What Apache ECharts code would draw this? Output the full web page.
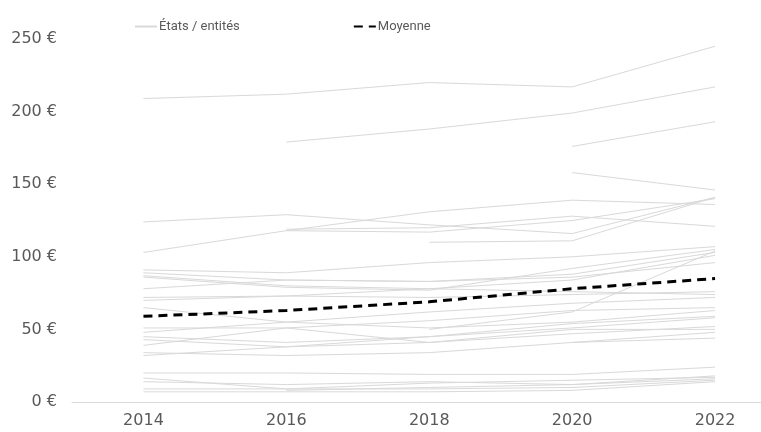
<!DOCTYPE html>
<html>
<head>
<meta charset="utf-8">
<script src="https://cdn.jsdelivr.net/npm/echarts@6/dist/echarts.min.js"></script>
<style>
  html, body { margin: 0; padding: 0; background: #fff; }
  #chart { width: 761px; height: 432px; }
</style>
</head>
<body>
<div id="chart"></div>
<script>
// années (axe x)
let annees = [2014, 2016, 2018, 2020, 2022];
let yTicks = [0, 50, 100, 150, 200, 250];

// une ligne par état / entité (null = pas de donnée)
let etats = [
    [209, 212, 220, 217, 245],
    [null, 179, 188, 199, 217],
    [null, null, null, 176, 193],
    [null, null, null, 158, 146],
    [124, 129, 122, 116, 141],
    [103, 118, 131, 139, 136],
    [null, 119, 120, 128, 121],
    [null, null, 110, 111, 141],
    [null, 118, 117, 125, 140],
    [91, 89, 96, 100, 107],
    [89, 84, 83, 88, 103],
    [87, 80, 78, 84, 101],
    [86, 79, 77, 92, 105],
    [78, 84, 83, 86, 96],
    [72, 73, 72, 74, 76],
    [70, 73, 78, 76, 74],
    [65, 55, 62, 68, 72],
    [51, 51, 56, 63, 65],
    [48, 55, 51, 55, 63],
    [45, 41, 45, 54, 59],
    [43, 38, 45, 51, 58],
    [39, 51, 41, 50, 50],
    [34, 32, 34, 41, 48],
    [32, 38, 41, 47, 52],
    [null, null, 50, 62, 104],
    [null, null, null, 41, 44],
    [20, 20, 19, 19, 24],
    [16.5, 9, 13, 15, 17],
    [14, 12, 14, 12, 16],
    [9, 9, 9, 10, 15],
    [7, 7, 7, 8, 14],
    [null, 8, 10, 12, 18]
];

// moyenne
let moyenne = [59, 63, 69, 78, 85];

let textColor = '#595959';
let greyLine = '#d9d9d9';

function toPairs(values) {
    let out = [];
    for (let i = 0; i < annees.length; i++) {
        out.push([annees[i], values[i] === null ? null : values[i]]);
    }
    return out;
}

let chart = echarts.init(document.getElementById('chart'), null, {renderer: 'canvas'});

let series = [];
for (let i = 0; i < etats.length; i++) {
    series.push({
        name: 'États / entités',
        type: 'line',
        data: toPairs(etats[i]),
        symbol: 'none',
        silent: true,
        lineStyle: {color: greyLine, width: 1},
        itemStyle: {color: greyLine},
        z: 2
    });
}
series.push({
    name: 'Moyenne',
    type: 'line',
    data: toPairs(moyenne),
    symbol: 'none',
    lineStyle: {color: '#000', width: 3, type: [9, 6]},
    itemStyle: {color: '#000'},
    z: 5
});

chart.setOption({
    animation: false,
    backgroundColor: '#fff',
    legend: {
        top: 15,
        left: 129,
        itemGap: 113,
        itemWidth: 22,
        itemHeight: 10,
        itemStyle: {opacity: 0},
        textStyle: {color: textColor, fontSize: 13, fontFamily: "'Liberation Sans Narrow', Roboto, sans-serif", padding: [0, 0, 0, -3]},
        data: ['États / entités', 'Moyenne']
    },
    grid: {left: 72, top: 39, right: 0, bottom: 30},
    xAxis: {
        type: 'value',
        min: 2013,
        max: 2022.643,
        interval: 1,
        axisLine: {lineStyle: {color: greyLine, width: 1}},
        axisTick: {show: false},
        splitLine: {show: false},
        axisLabel: {
            color: textColor, fontSize: 16, fontFamily: "'DejaVu Sans', sans-serif", margin: 11,
            showMinLabel: false, showMaxLabel: false,
            formatter: function (v) { return annees.indexOf(v) >= 0 ? String(v) : ''; }
        }
    },
    yAxis: {
        type: 'value',
        min: yTicks[0],
        max: yTicks[yTicks.length - 1],
        interval: 50,
        axisLine: {show: false},
        axisTick: {show: false},
        splitLine: {show: false},
        axisLabel: {color: textColor, fontSize: 16, fontFamily: "'DejaVu Sans', sans-serif", margin: 15, formatter: '{value} €'}
    },
    series: series
});
</script>
</body>
</html>
